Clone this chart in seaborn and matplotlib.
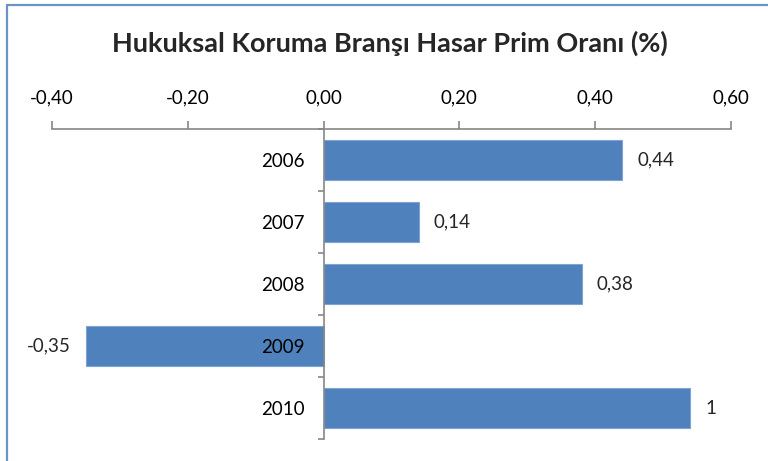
import numpy as np
import pandas as pd
import matplotlib
matplotlib.use("Agg")
import matplotlib.pyplot as plt
from matplotlib.lines import Line2D
import seaborn as sns

# ---- data ----
years = ["2006", "2007", "2008", "2009", "2010"]
values = [0.44, 0.14, 0.38, -0.35, 0.54]
value_labels = ["0,44", "0,14", "0,38", "-0,35", "1"]
x_ticks = [-0.40, -0.20, 0.00, 0.20, 0.40, 0.60]
x_tick_labels = ["-0,40", "-0,20", "0,00", "0,20", "0,40", "0,60"]
title = "Hukuksal Koruma Branşı Hasar Prim Oranı (%)"

sns.set_style("white")
plt.rcParams["font.family"] = ["Lato", "DejaVu Sans"]

W, H = 768, 461
fig = plt.figure(figsize=(W / 100, H / 100), dpi=100)
ax = fig.add_axes([52 / W, 1 - 439 / H, (731 - 52) / W, (439 - 129) / H])

df = pd.DataFrame({"year": years, "value": values})
sns.barplot(data=df, x="value", y="year", orient="h", color="#4F81BD",
            width=0.64, errorbar=None, edgecolor="#7FA3D3", linewidth=0.8,
            saturation=1, ax=ax)

ax.set_xlim(-0.4, 0.6)
ax.set_ylim(4.5, -0.5)
ax.set_xlabel("")
ax.set_ylabel("")
ax.set_axisbelow(False)

gray = "#868686"
for s in ["right", "bottom"]:
    ax.spines[s].set_visible(False)
ax.spines["left"].set_position(("data", 0))
ax.spines["left"].set_color(gray)
ax.spines["top"].set_color(gray)
ax.spines["left"].set_linewidth(1.2)
ax.spines["top"].set_linewidth(1.2)

# x axis on top
ax.xaxis.tick_top()
ax.set_xticks(x_ticks)
ax.set_xticklabels(x_tick_labels)
ax.tick_params(axis="x", which="major", top=True, bottom=False, length=5.5,
               width=1.2, color=gray, direction="out", pad=11,
               labelsize=13.5, labelcolor="black")

# y axis (crosses at 0)
ax.set_yticks(range(len(years)))
ax.set_yticklabels(years)
ax.tick_params(axis="y", which="major", length=0, pad=13.5, labelsize=13.5,
               labelcolor="black")
ax.set_yticks(np.arange(-0.5, len(years), 1.0), minor=True)
ax.tick_params(axis="y", which="minor", left=True, length=4, width=1.2,
               color=gray, direction="out")

ax.bar_label(ax.containers[0], labels=value_labels, padding=11, fontsize=13.5)

fig.text(390 / W, 1 - 43 / H, title, ha="center", va="center",
         fontsize=19.5, fontweight="bold")

# outer border (left and top edges)
bc = "#6D93C6"
fig.add_artist(Line2D([7 / W, 7 / W], [0, 1 - 5 / H], transform=fig.transFigure,
                      color=bc, linewidth=1.6))
fig.add_artist(Line2D([7 / W, 1], [1 - 5 / H, 1 - 5 / H], transform=fig.transFigure,
                      color=bc, linewidth=1.6))

fig.savefig("out.png", dpi=100)
